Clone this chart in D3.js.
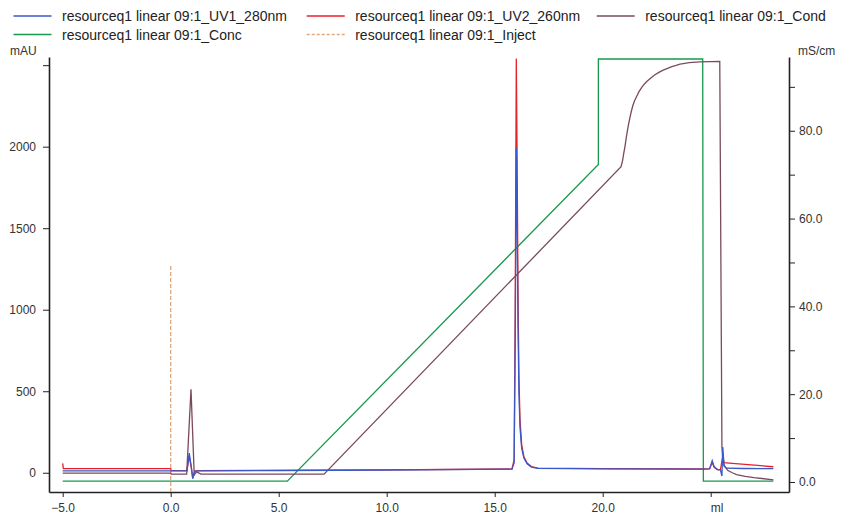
<!DOCTYPE html>
<html>
<head>
<meta charset="utf-8">
<script src="https://cdn.jsdelivr.net/npm/d3@7"></script>
<style>
  body { margin: 0; background: #fff; }
  svg { font-family: "Liberation Sans", Arial, sans-serif; }
  .axis path, .axis line { stroke: #222; }
  .axis text { fill: #333; font-size: 12px; }
</style>
</head>
<body>
<script>
// series values, [ml, value]
let uv1 = [[-5.0,12],[0.0,12],[0.75,12],[0.86,120],[0.95,40],[1.02,-37],[1.12,10],[1.3,12],[5,14],[10,17],[15.8,22],[15.9,60],[15.95,800],[16.0,1996],[16.04,1500],[16.08,900],[16.12,500],[16.17,280],[16.25,150],[16.35,90],[16.5,55],[16.7,35],[17.0,27],[20,24],[24.6,22],[24.95,24],[25.07,74],[25.15,40],[25.3,20],[25.45,18],[25.52,-20],[25.56,158],[25.62,40],[25.75,28],[26.5,26],[27.9,25]];
let uv2 = [[-5.0,58],[-4.97,25],[0.0,25],[0.02,13],[0.75,13],[0.86,100],[0.95,35],[1.02,-30],[1.12,10],[1.3,13],[5,15],[10,18],[15.8,23],[15.9,80],[15.95,1000],[16.0,2540],[16.04,1900],[16.08,1100],[16.12,600],[16.17,330],[16.25,170],[16.35,100],[16.5,60],[16.7,38],[17.0,28],[20,25],[24.6,23],[24.95,25],[25.07,65],[25.15,35],[25.3,20],[25.45,18],[25.56,100],[25.62,62],[26.0,58],[27.9,37]];
let cond = [[-5.0,2.0],[0.0,2.0],[0.02,1.8],[0.74,1.8],[0.94,21.1],[1.09,1.6],[1.2,2.3],[1.4,1.8],[7.1,1.8],[20.85,71.8],[20.92,73.2],[20.98,75.0],[21.03,76.4],[21.09,78.4],[21.15,80.2],[21.21,81.8],[21.27,83.2],[21.33,84.5],[21.4,85.8],[21.48,86.9],[21.57,87.8],[21.68,88.9],[21.8,89.8],[21.92,90.6],[22.04,91.2],[22.2,91.9],[22.4,92.7],[22.6,93.3],[22.8,93.8],[23.0,94.2],[23.2,94.6],[23.4,94.9],[23.58,95.2],[23.8,95.35],[24.0,95.5],[24.5,95.7],[25.42,95.8],[25.52,8],[25.56,5.2],[25.6,4.0],[25.7,3.2],[25.8,2.6],[26.0,2.1],[26.2,1.7],[26.6,1.3],[27.0,1.0],[27.9,0.5]];
let conc = [[-5.0,0],[5.4,0],[19.8,75],[19.8,100],[24.63,100],[24.66,0],[27.9,0]];
let injectMl = [0.0];
let injectTop = 1270;

let xTicks = [-5, 0, 5, 10, 15, 20, 25];
let leftTicks = [0, 500, 1000, 1500, 2000, 2500];
let rightTicks = [0, 10, 20, 30, 40, 50, 60, 70, 80, 90];

let legendItems = [
  {name: 'resourceq1 linear 09:1_UV1_280nm', color: '#3a58c8', dash: null},
  {name: 'resourceq1 linear 09:1_UV2_260nm', color: '#e8202a', dash: null},
  {name: 'resourceq1 linear 09:1_Cond', color: '#7a4a5c', dash: null},
  {name: 'resourceq1 linear 09:1_Conc', color: '#16994c', dash: null},
  {name: 'resourceq1 linear 09:1_Inject', color: '#e2a87c', dash: '3,2'}
];

let w = 846, h = 515;
let padL = 49, padR = 789, padT = 57, padB = 492;

let svg = d3.select('body').append('svg')
  .attr('width', w)
  .attr('height', h);

let x = d3.scaleLinear().domain([-5.634, 28.625]).range([padL, padR]);
let yL = d3.scaleLinear().domain([-118, 2550]).range([padB, padT]);
let yR = d3.scaleLinear().domain([-2.28, 96.8]).range([padB, padT]);
let yC = d3.scaleLinear().domain([0, 100]).range([yR(0.2), yR(96.35)]);

// axes
svg.append('g')
  .attr('class', 'axis')
  .attr('transform', `translate(0,${padB})`)
  .call(d3.axisBottom(x).tickValues(xTicks).tickSize(5).tickPadding(6).tickSizeOuter(0)
    .tickFormat(d => d == 25 ? 'ml' : d3.format('.1f')(d)))
  .call(g => g.select('.domain').attr('stroke-width', 1.6))
  .call(g => g.selectAll('.tick text').filter(d => d == 25).attr('dx', 6));

svg.append('g')
  .attr('class', 'axis')
  .attr('transform', `translate(${padL},0)`)
  .call(d3.axisLeft(yL).tickValues(leftTicks).tickSize(6).tickPadding(7).tickSizeOuter(0)
    .tickFormat(d => d == 2500 ? '' : d))
  .call(g => g.select('.domain').attr('stroke-width', 1.6));

svg.append('g')
  .attr('class', 'axis')
  .attr('transform', `translate(${padR},0)`)
  .call(d3.axisRight(yR).tickValues(rightTicks).tickSize(6).tickPadding(4).tickSizeOuter(0)
    .tickFormat(d => d % 20 == 0 ? d3.format('.1f')(d) : ''))
  .call(g => g.select('.domain').attr('stroke-width', 1.6));

svg.append('text').text('mAU')
  .attr('x', 10).attr('y', 55)
  .style('font-size', '12px').attr('fill', '#333');
svg.append('text').text('mS/cm')
  .attr('x', 798).attr('y', 55)
  .style('font-size', '12px').attr('fill', '#333');

// lines
let lineL = d3.line().x(d => x(d[0])).y(d => yL(d[1]));
let lineR = d3.line().x(d => x(d[0])).y(d => yR(d[1]));
let lineC = d3.line().x(d => x(d[0])).y(d => yC(d[1]));

svg.selectAll('.inject')
  .data(injectMl)
  .enter()
  .append('line')
  .attr('x1', d => x(d)).attr('x2', d => x(d))
  .attr('y1', yL(-118)).attr('y2', yL(injectTop))
  .attr('stroke', legendItems[4].color)
  .attr('stroke-width', 1.3)
  .attr('stroke-dasharray', '4,2');

svg.append('path').datum(conc)
  .attr('d', lineC).attr('fill', 'none')
  .attr('stroke', legendItems[3].color).attr('stroke-width', 1.3);

svg.append('path').datum(cond)
  .attr('d', lineR).attr('fill', 'none')
  .attr('stroke', legendItems[2].color).attr('stroke-width', 1.3);

svg.append('path').datum(uv2)
  .attr('d', lineL).attr('fill', 'none')
  .attr('stroke', legendItems[1].color).attr('stroke-width', 1.3);

svg.append('path').datum(uv1)
  .attr('d', lineL).attr('fill', 'none')
  .attr('stroke', legendItems[0].color).attr('stroke-width', 1.3);

// legend
let legX = [13.5, 306.7, 596.7];
let leg = svg.selectAll('.leg')
  .data(legendItems)
  .enter()
  .append('g')
  .attr('transform', (d, i) => `translate(${legX[i % 3]},${i < 3 ? 16 : 34.5})`);

leg.append('line')
  .attr('x1', 0).attr('x2', 38)
  .attr('stroke', d => d.color)
  .attr('stroke-width', 1.3)
  .attr('stroke-dasharray', d => d.dash);

leg.append('text')
  .text(d => d.name)
  .attr('x', 48.5).attr('y', 5)
  .style('font-size', '14px').attr('fill', '#222');
</script>
</body>
</html>
